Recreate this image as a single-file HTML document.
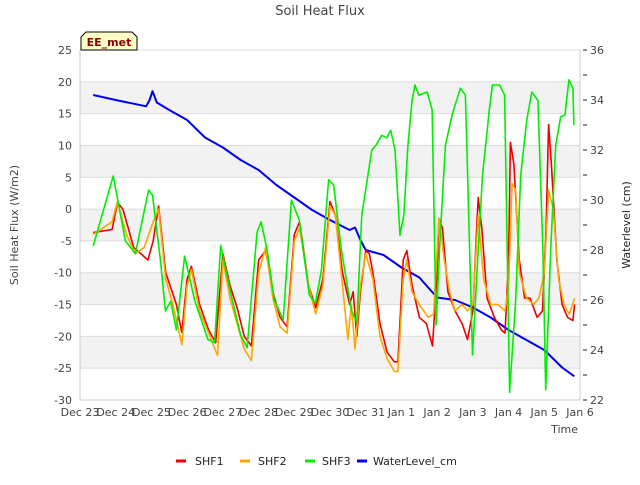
<!DOCTYPE html>
<html><head><meta charset="utf-8"><style>
body{margin:0;background:#fff;font-family:"Liberation Sans","DejaVu Sans",sans-serif;}
svg text{font-family:"DejaVu Sans","Liberation Sans",sans-serif;}
</style></head><body>
<svg id="chart" width="640" height="480" viewBox="0 0 640 480" xmlns="http://www.w3.org/2000/svg">
<g id="bands"></g><g id="grid"></g>
<g id="series"></g>
<g id="axes"></g>
</svg>
<script>
const xTickLabels=["Dec 23","Dec 24","Dec 25","Dec 26","Dec 27","Dec 28","Dec 29","Dec 30","Dec 31","Jan 1","Jan 2","Jan 3","Jan 4","Jan 5","Jan 6"];
const yTicks=[25,20,15,10,5,0,-5,-10,-15,-20,-25,-30];
const y2Ticks=[22,24,26,28,30,32,34,36];
const shf1Days=[.37,.9,1.05,1.2,1.5,1.9,2.05,2.2,2.4,2.55,2.7,2.85,3.0,3.12,3.35,3.6,3.8,4.0,4.2,4.4,4.6,4.8,5.0,5.2,5.4,5.6,5.8,6.0,6.15,6.4,6.6,6.8,7.0,7.15,7.35,7.55,7.65,7.75,7.85,8.0,8.1,8.2,8.4,8.6,8.8,8.9,9.05,9.15,9.3,9.5,9.7,9.87,10.0,10.05,10.15,10.3,10.5,10.7,10.85,11.0,11.1,11.15,11.25,11.4,11.6,11.8,11.9,12.0,12.05,12.15,12.3,12.45,12.6,12.8,12.95,13.05,13.12,13.2,13.35,13.5,13.65,13.8,13.85];
const shf1Vals=[-3.7,-3.2,1,0,-6,-8,-5,0.5,-10,-12.5,-15,-19.4,-11,-9,-15,-19,-21,-7,-12,-15.5,-20,-21.5,-8,-6.5,-13,-17,-18.5,-4,-2,-12,-15.5,-11,1.2,-1,-10,-15,-13,-20,-13,-6.5,-7,-10,-18,-22.5,-24,-24,-8,-6.5,-12,-17,-18,-21.5,-10,-1.5,-3,-13,-16,-18,-20.5,-16,-4,1.8,-3,-14,-17,-19,-19.5,-8,10.5,7,-8,-14,-14,-17,-16,-3,13.3,7,-8,-15,-17,-17.5,-15];
const shf2Days=[.37,.9,1.05,1.3,1.55,1.8,2.05,2.2,2.4,2.6,2.85,3.0,3.12,3.35,3.6,3.85,4.0,4.2,4.4,4.6,4.8,5.0,5.2,5.4,5.6,5.8,6.0,6.15,6.4,6.6,6.8,7.0,7.15,7.35,7.5,7.6,7.7,7.85,8.0,8.2,8.4,8.6,8.8,8.9,9.05,9.15,9.3,9.5,9.75,9.9,10.05,10.2,10.35,10.5,10.7,10.85,11.0,11.15,11.3,11.5,11.7,11.9,12.0,12.1,12.2,12.3,12.5,12.7,12.85,13.0,13.12,13.25,13.4,13.55,13.7,13.85];
const shf2Vals=[-4,-2,1.2,-4,-7,-6,-2,0,-11,-15,-21.3,-12,-9.5,-16,-19.5,-23,-8,-14,-18,-22,-23.8,-10,-6,-14,-18.5,-19.5,-5,-3,-12,-16.5,-12,0.5,-1,-12,-20.5,-15,-22,-12,-7,-11,-20,-23.5,-25.5,-25.5,-11,-8,-13,-15,-17,-16.5,-1.5,-8,-13,-16,-15,-16,-15,-1,-11,-15,-15,-16,-12,4,3,-10,-14,-15,-14,-10,3,0,-11,-15,-16.5,-14];
const shf3Days=[.37,.93,1.27,1.55,1.92,2.03,2.25,2.39,2.54,2.7,2.93,3.21,3.58,3.77,3.94,4.23,4.5,4.68,4.96,5.07,5.24,5.44,5.69,5.92,6.14,6.42,6.59,6.76,6.96,7.1,7.32,7.6,7.75,7.89,8.06,8.17,8.28,8.45,8.59,8.7,8.82,8.96,9.07,9.18,9.3,9.38,9.49,9.72,9.86,9.97,10.08,10.23,10.42,10.65,10.79,10.99,11.15,11.27,11.46,11.55,11.75,11.89,12.03,12.2,12.34,12.51,12.65,12.82,12.96,13.04,13.18,13.32,13.46,13.58,13.69,13.8,13.83];
const shf3Vals=[-5.8,5.2,-5,-7,3,2.2,-8,-16,-14.5,-19,-7.4,-14.3,-20.5,-21,-5.7,-13.5,-19.8,-21.8,-3.6,-2,-6.4,-14.3,-17.4,1.4,-1.7,-13.5,-14.8,-9.6,4.6,3.8,-6.4,-15.9,-17.8,-0.9,5.3,9.3,10,11.6,11.2,12.4,9.3,-4.1,-0.9,10,17.1,19.5,17.9,18.4,15.6,-18.2,-4.9,10,14.8,19,17.9,-22.9,-6.4,5.3,15.6,19.5,19.5,17.9,-28.8,-14.3,5.3,14,18.4,17.1,-6.4,-28.4,-6.4,10,14.5,14.8,20.3,19,13.2];
const wlDays=[.37,1.0,1.5,1.85,1.95,2.03,2.15,2.5,3.0,3.5,4.0,4.5,5.0,5.5,6.0,6.5,7.0,7.55,7.7,7.85,8.0,8.5,9.0,9.5,10.0,10.5,11.0,11.5,12.0,12.5,13.0,13.5,13.84];
const wlVals=[34.2,34.0,33.85,33.75,34.0,34.35,33.9,33.6,33.2,32.5,32.1,31.6,31.2,30.6,30.1,29.6,29.2,28.8,28.9,28.4,28.0,27.8,27.3,26.9,26.1,26.0,25.7,25.3,24.8,24.4,24.0,23.3,22.95];

const L=80,R=580,T=50,B=400;
const xS=d=>L+d*(R-L)/14;
const yS=v=>T+(25-v)*(B-T)/55;
const y2S=v=>T+(36-v)*(B-T)/14;
const NS="http://www.w3.org/2000/svg";
function mk(tag,attrs,parent,txt){const e=document.createElementNS(NS,tag);for(const k in attrs)e.setAttribute(k,attrs[k]);if(txt!==undefined)e.textContent=txt;parent.appendChild(e);return e;}
const bands=document.getElementById('bands'),grid=document.getElementById('grid'),ser=document.getElementById('series'),ax=document.getElementById('axes');
mk('rect',{x:L,y:T,width:R-L,height:B-T,fill:'#fff'},bands);
for(let v=20;v>-30;v-=10){const b=mk('rect',{x:L,y:yS(v),width:R-L,height:yS(v-5)-yS(v),fill:'#f2f2f2'},bands);

}
yTicks.forEach(v=>{const g=mk('line',{x1:L,x2:R,y1:yS(v),y2:yS(v),stroke:'#dcdcdc','stroke-width':1},grid);


const t=mk('text',{x:L-8,y:yS(v)+4,'text-anchor':'end','font-size':11,fill:'#444'},ax,String(v));

});
y2Ticks.forEach(v=>{mk('line',{x1:R+3,x2:R+7,y1:y2S(v),y2:y2S(v),stroke:'#222'},ax);
if(v<36){mk('line',{x1:R+3,x2:R+7,y1:y2S(v+1),y2:y2S(v+1),stroke:'#222'},ax);}
const t=mk('text',{x:R+10,y:y2S(v)+4,'font-size':11,fill:'#444'},ax,String(v));

});
mk('line',{x1:L,x2:L,y1:T,y2:B,stroke:'#ccc'},ax);
mk('line',{x1:R,x2:R,y1:T,y2:B,stroke:'#ccc'},ax);
mk('line',{x1:L,x2:R,y1:B,y2:B,stroke:'#ccc'},ax);
xTickLabels.forEach((s,i)=>{const t=mk('text',{x:xS(i),y:B+16,'text-anchor':'middle','font-size':11,fill:'#444'},ax,s);

});
function line(days,vals,ys,color,name){const d=days.map((x,i)=>(i?'L':'M')+xS(x).toFixed(1)+','+ys(vals[i]).toFixed(1)).join('');
const p=mk('path',{d:d,fill:'none',stroke:color,'stroke-width':name==='waterlevel-line'?2:1.6,'stroke-linejoin':'round'},ser);

}
line(wlDays,wlVals,y2S,'#0000ee','waterlevel-line');
line(shf1Days,shf1Vals,yS,'#ee0000','shf1-line');
line(shf2Days,shf2Vals,yS,'#ffa500','shf2-line');
line(shf3Days,shf3Vals,yS,'#00ee00','shf3-line');
</script>
<svg style="position:absolute;left:0;top:0" width="640" height="480" xmlns="http://www.w3.org/2000/svg">
<text x="320" y="15" text-anchor="middle" font-size="13" fill="#444" font-family="DejaVu Sans, sans-serif">Soil Heat Flux</text>
<text transform="translate(18,225) rotate(-90)" text-anchor="middle" font-size="11" fill="#444" font-family="DejaVu Sans, sans-serif">Soil Heat Flux (W/m2)</text>
<text transform="translate(630,225) rotate(-90)" text-anchor="middle" font-size="11" fill="#222" font-family="DejaVu Sans, sans-serif">Waterlevel (cm)</text>
<text x="578" y="433" text-anchor="end" font-size="11" fill="#444" font-family="DejaVu Sans, sans-serif">Time</text>
<g>
<path d="M81,50 L81,37 L86,32 L132,32 L137,37 L137,50 Z" fill="#ffffc8" stroke="#000" stroke-width="1"/>
<text x="109" y="46" text-anchor="middle" font-size="11" font-weight="bold" fill="#8b0000" font-family="DejaVu Sans, sans-serif">EE_met</text>
</g>
<g font-family="DejaVu Sans, sans-serif" font-size="11" fill="#222">
<g><line x1="176" x2="186" y1="461" y2="461" stroke="#ee0000" stroke-width="3"/><text x="195" y="465">SHF1</text></g>
<g><line x1="240" x2="250" y1="461" y2="461" stroke="#ffa500" stroke-width="3"/><text x="258" y="465">SHF2</text></g>
<g><line x1="305" x2="315" y1="461" y2="461" stroke="#00ee00" stroke-width="3"/><text x="322" y="465">SHF3</text></g>
<g><line x1="357" x2="367" y1="461" y2="461" stroke="#0000ee" stroke-width="3"/><text x="373" y="465">WaterLevel_cm</text></g>
</g>
</svg>
</body></html>
